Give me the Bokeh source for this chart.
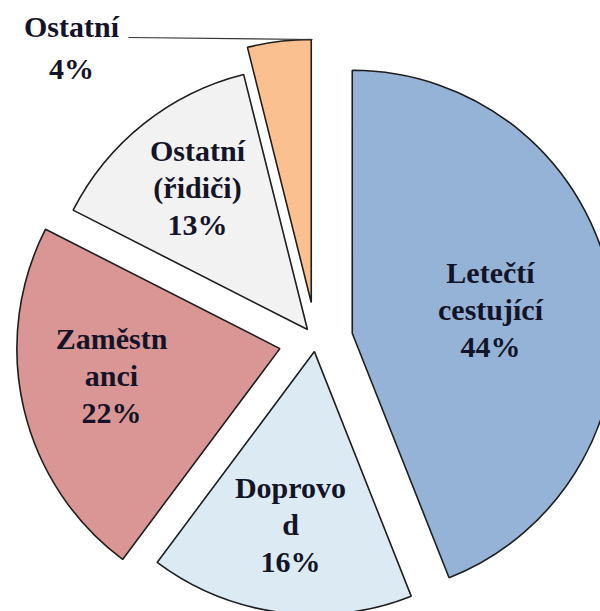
import math
from bokeh.plotting import figure
from bokeh.models import Range1d, Label
from bokeh.embed import file_html
from bokeh.resources import INLINE

# ---- data ----
categories = ["Letečtí cestující", "Doprovod", "Zaměstnanci", "Ostatní (řidiči)", "Ostatní"]
shares = [44.0, 16.2, 22.3, 13.6, 3.9]
pct_labels = ["44%", "16%", "22%", "13%", "4%"]
label_lines = [["Letečtí", "cestující"], ["Doprovo", "d"], ["Zaměstn", "anci"],
               ["Ostatní", "(řidiči)"], ["Ostatní"]]

# ---- style / layout ----
colors = ["#95B3D7", "#DCEBF3", "#D99694", "#F2F2F2", "#FAC090"]
explode_px = [37, 11.5, 37, 13.6, 38]
W, H = 600, 611
PAGE_H = 611
cx_page, cy_page = 315.4, 339.7
R = 263
label_pos_page = [(490, 309), (290, 524), (111, 375), (197, 187), (71, 47)]
line_gap = [37, 37, 37, 37, 42]

def to_data(px, py):
    return px, PAGE_H - py

p = figure(width=W, height=H, output_backend="svg", toolbar_location=None,
           x_range=Range1d(0, W), y_range=Range1d(PAGE_H - H, PAGE_H),
           min_border=0)
p.axis.visible = False
p.grid.visible = False
p.outline_line_color = None

cx, cy = to_data(cx_page, cy_page)
total = sum(shares)
acc = 0.0
for i, s in enumerate(shares):
    t0 = acc / total * 2 * math.pi
    acc += s
    t1 = acc / total * 2 * math.pi
    mid = (t0 + t1) / 2
    ax = cx + explode_px[i] * math.sin(mid)
    ay = cy + explode_px[i] * math.cos(mid)
    p.wedge(x=[ax], y=[ay], radius=R,
            start_angle=[math.pi / 2 - t0], end_angle=[math.pi / 2 - t1],
            direction="clock", fill_color=colors[i],
            line_color="#1E1E1E", line_width=1.6)

# leader line for the small slice label
lx0, ly0 = to_data(128, 37)
lx1, ly1 = to_data(312, 39)
p.segment(x0=[lx0], y0=[ly0], x1=[lx1], y1=[ly1], line_color="#333333", line_width=1.2)

for i, lines in enumerate(label_lines):
    all_lines = lines + [pct_labels[i]]
    n = len(all_lines)
    bx, by = label_pos_page[i]
    for k, t in enumerate(all_lines):
        py = by + (k - (n - 1) / 2) * line_gap[i]
        x, y = to_data(bx, py)
        p.add_layout(Label(x=x, y=y, text=t, text_font="Liberation Serif",
                           text_font_style="bold", text_font_size="30px",
                           text_color="#141428", text_align="center",
                           text_baseline="middle"))

open("out.html", "w").write(file_html(p, INLINE))
